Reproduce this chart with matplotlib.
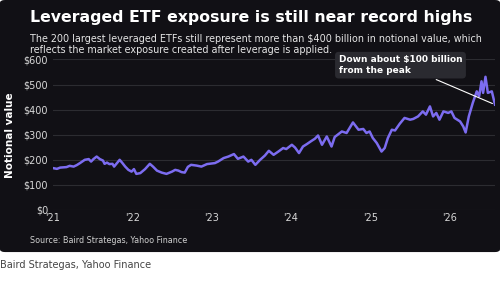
import matplotlib.pyplot as plt
from matplotlib.patches import FancyBboxPatch

# data (time in fractional years, value in $ billions)
years = [2021.00, 2021.05, 2021.09, 2021.17, 2021.21, 2021.26, 2021.30, 2021.34, 2021.40,
         2021.45, 2021.48, 2021.51, 2021.55, 2021.59, 2021.63, 2021.65, 2021.68, 2021.71,
         2021.75, 2021.77, 2021.84, 2021.87, 2021.91, 2021.95, 2021.99, 2022.02, 2022.05,
         2022.10, 2022.16, 2022.22, 2022.26, 2022.31, 2022.37, 2022.43, 2022.50, 2022.54,
         2022.58, 2022.62, 2022.66, 2022.70, 2022.74, 2022.81, 2022.87, 2022.94, 2023.04,
         2023.08, 2023.15, 2023.21, 2023.28, 2023.33, 2023.40, 2023.46, 2023.50, 2023.55,
         2023.61, 2023.67, 2023.72, 2023.78, 2023.84, 2023.90, 2023.94, 2024.01, 2024.05,
         2024.10, 2024.15, 2024.20, 2024.26, 2024.30, 2024.34, 2024.39, 2024.45, 2024.51,
         2024.55, 2024.64, 2024.70, 2024.78, 2024.85, 2024.91, 2024.95, 2024.99, 2025.03,
         2025.08, 2025.14, 2025.18, 2025.22, 2025.27, 2025.31, 2025.37, 2025.43, 2025.50,
         2025.54, 2025.60, 2025.66, 2025.70, 2025.75, 2025.79, 2025.83, 2025.87, 2025.92,
         2025.98, 2026.02, 2026.06, 2026.13, 2026.17, 2026.20, 2026.24, 2026.29, 2026.34,
         2026.37, 2026.40, 2026.42, 2026.45, 2026.48, 2026.53, 2026.57]
values = [167, 164, 169, 171, 176, 173, 179, 187, 200,
          203, 193, 203, 213, 203, 197, 184, 189, 183,
          184, 173, 200, 189, 173, 160, 153, 163, 144,
          147, 163, 184, 173, 157, 149, 144, 153, 160,
          157, 151, 149, 172, 180, 177, 173, 183, 187,
          193, 207, 213, 223, 204, 213, 193, 200, 180,
          200, 217, 236, 220, 233, 247, 243, 260, 249,
          227, 253, 263, 276, 284, 297, 260, 293, 253,
          291, 313, 307, 349, 320, 323, 307, 313, 287,
          267, 233, 247, 287, 320, 317, 344, 367, 360,
          363, 373, 393, 380, 413, 373, 387, 360, 393,
          387, 393, 367, 353, 333, 309, 373, 427, 473,
          453, 513, 467, 531, 467, 473, 420]

year_ticks = [2021, 2022, 2023, 2024, 2025, 2026]
year_labels = ["'21", "'22", "'23", "'24", "'25", "'26"]
y_ticks = [0, 100, 200, 300, 400, 500, 600]
y_labels = ["$0", "$100", "$200", "$300", "$400", "$500", "$600"]

bg = "#111015"
purple = "#7C6CF0"

fig = plt.figure(figsize=(5, 2.81), dpi=100, facecolor="white")

# dark panel behind everything
panel = FancyBboxPatch((0, 0.103), 1, 0.897, boxstyle="round,pad=0,rounding_size=0.01",
                       transform=fig.transFigure, facecolor=bg, edgecolor="none", zorder=-5)
fig.patches.append(panel)

ax = fig.add_axes([0.106, 0.2527, 0.884, 0.5356])
ax.set_facecolor(bg)
ax.plot(years, values, color=purple, lw=1.8, solid_joinstyle="round")
ax.set_xlim(2021, 2026.57)
ax.set_ylim(0, 600)
ax.set_yticks(y_ticks)
ax.set_yticklabels(y_labels)
ax.set_xticks(year_ticks)
ax.set_xticklabels(year_labels)
ax.tick_params(length=0, colors="#d8d8d8", labelsize=7)
ax.tick_params(axis="x", pad=2)
ax.grid(axis="y", color="#2c2c31", lw=0.8)
ax.set_axisbelow(True)
for s in ax.spines.values():
    s.set_visible(False)
ax.set_ylabel("Notional value", color="white", fontsize=7.5, fontweight="bold", labelpad=6)

fig.text(0.06, 0.965, "Leveraged ETF exposure is still near record highs", color="white",
         fontsize=11.3, fontweight="bold", va="top")
fig.text(0.06, 0.88, "The 200 largest leveraged ETFs still represent more than $400 billion in notional value, which\n"
         "reflects the market exposure created after leverage is applied.",
         color="#e6e6e6", fontsize=6.9, va="top", linespacing=1.2)

# annotation
ax.annotate("Down about $100 billion\nfrom the peak", xy=(years[-1], values[-1]),
            xytext=(2024.6, 616), textcoords="data", color="white", fontsize=6.5,
            fontweight="bold", va="top", ha="left",
            bbox=dict(boxstyle="round,pad=0.4", fc="#2a2a30", ec="none"),
            arrowprops=dict(arrowstyle="-", color="white", lw=0.8, relpos=(0.7, 0)))

fig.text(0.06, 0.135, "Source: Baird Strategas, Yahoo Finance", color="#d0d0d0", fontsize=5.8)
fig.text(0.0, 0.045, "Baird Strategas, Yahoo Finance", color="#444444", fontsize=7)

fig.savefig("out.png", dpi=100, facecolor="white")
